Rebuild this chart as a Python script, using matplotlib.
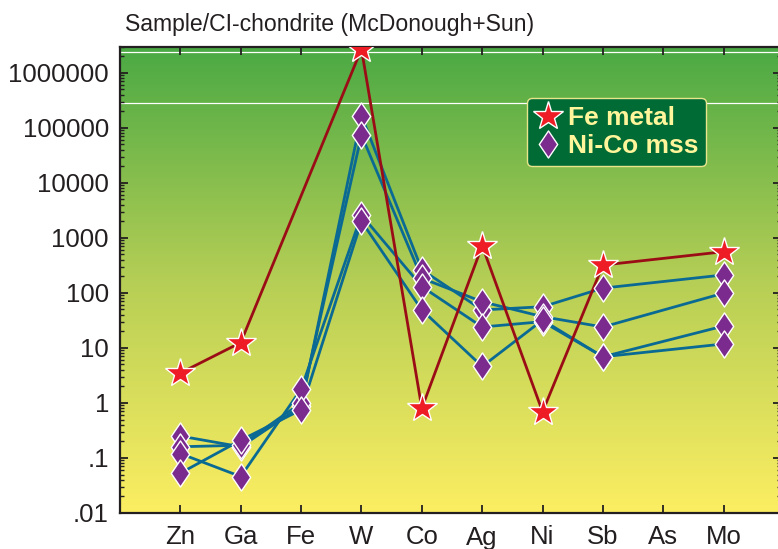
import numpy as np
import matplotlib
matplotlib.use("Agg")
import matplotlib.pyplot as plt
from matplotlib.path import Path
from matplotlib.lines import Line2D
from matplotlib.colors import LinearSegmentedColormap
from matplotlib.ticker import FixedLocator, FixedFormatter, LogLocator, NullFormatter

plt.rcParams['font.family'] = ['Liberation Sans', 'DejaVu Sans']

# Elements along the x axis (CI-chondrite normalised)
elements = ['Zn', 'Ga', 'Fe', 'W', 'Co', 'Ag', 'Ni', 'Sb', 'As', 'Mo']

# Fe metal (None = not analysed)
fe_metal = [3.5, 12.5, None, 2.7e6, 0.8, 720, 0.69, 320, None, 560]

# Ni-Co mss analyses
mss_1 = [0.25, 0.16, 0.87, 1.65e5, 263, 49, 56, 122, None, 212]
mss_2 = [0.16, 0.17, 1.0, 7.4e4, 185, 69, 37, 24, None, 99]
mss_3 = [0.12, 0.046, 1.78, 2.6e3, 130, 24, 30, 6.9, None, 25]
mss_4 = [0.053, 0.21, 0.75, 2.0e3, 49, 4.6, 32, 6.9, None, 11.8]
mss_series = [mss_1, mss_2, mss_3, mss_4]

y_ticks = [0.01, 0.1, 1, 10, 100, 1000, 10000, 100000, 1000000]
y_ticklabels = ['.01', '.1', '1', '10', '100', '1000', '10000', '100000', '1000000']

RED_LINE = '#9b0d16'
BLUE_LINE = '#0b6a93'
PURPLE = '#7b2a8e'
STAR_RED = '#ee1c25'
DARK = '#231f20'

diamond = Path([(0, 1), (0.68, 0), (0, -1), (-0.68, 0), (0, 1)],
               [Path.MOVETO, Path.LINETO, Path.LINETO, Path.LINETO, Path.CLOSEPOLY])


def split(values):
    xs = [i + 1 for i, v in enumerate(values) if v is not None]
    ys = [v for v in values if v is not None]
    return xs, ys


fig = plt.figure(figsize=(7.78, 5.49), dpi=100)
ax = fig.add_axes([120 / 778, 1 - 513 / 549, 661 / 778, 466.5 / 549])

# green-to-yellow background
cmap = LinearSegmentedColormap.from_list(
    'bg', [(0.0, '#fcee62'), (0.5, '#b5ce55'), (1.0, '#4aa944')])
grad = np.linspace(0, 1, 256).reshape(-1, 1)
ax.imshow(grad, cmap=cmap, extent=[0, 1, 0, 1], transform=ax.transAxes,
          aspect='auto', origin='lower', zorder=0)

ax.set_yscale('log')
ax.set_ylim(0.01, 3.0e6)
ax.set_xlim(0, 10.95)

ax.axhline(2.4e6, color='white', lw=0.9, zorder=1)
ax.axhline(2.85e5, color='white', lw=0.9, zorder=1)

for s in mss_series:
    xs, ys = split(s)
    ax.plot(xs, ys, color=BLUE_LINE, lw=2.0, zorder=2, solid_capstyle='round')

fx, fy = split(fe_metal)
ax.plot(fx, fy, color=RED_LINE, lw=2.0, zorder=3)

for s in mss_series:
    xs, ys = split(s)
    ax.plot(xs, ys, ls='none', marker=diamond, ms=19.5, mfc=PURPLE,
            mec='white', mew=1.0, zorder=4)

ax.plot(fx, fy, ls='none', marker='*', ms=22, mfc=STAR_RED,
        mec='white', mew=1.0, zorder=5)

# axes styling
ax.yaxis.set_major_locator(FixedLocator(y_ticks))
ax.yaxis.set_major_formatter(FixedFormatter(y_ticklabels))
ax.yaxis.set_minor_locator(LogLocator(base=10, subs=np.arange(2, 10)))
ax.yaxis.set_minor_formatter(NullFormatter())
ax.set_xticks(range(1, len(elements) + 1))
ax.set_xticklabels(elements)

ax.tick_params(axis='both', which='major', direction='in', length=6, width=1.3,
               color=DARK, labelcolor=DARK, labelsize=18.5, pad=8,
               top=True, right=True)
ax.tick_params(axis='x', which='major', pad=9)
ax.tick_params(axis='y', which='minor', direction='in', length=3, width=1.0,
               color=DARK, right=True)
ax.tick_params(axis='x', which='minor', bottom=False, top=False)
for sp in ax.spines.values():
    sp.set_color(DARK)
    sp.set_linewidth(1.6)

fig.text(125 / 778, 1 - 24 / 549, 'Sample/CI-chondrite (McDonough+Sun)',
         fontsize=16.6, color=DARK, va='center', ha='left')

handles = [
    Line2D([], [], ls='none', marker='*', ms=22, mfc=STAR_RED, mec='white', mew=1.0),
    Line2D([], [], ls='none', marker=diamond, ms=19.5, mfc=PURPLE, mec='white', mew=1.0),
]
leg = fig.legend(handles, ['Fe metal', 'Ni-Co mss'], loc='upper left',
                 bbox_to_anchor=(527 / 778, 1 - 98 / 549),
                 prop={'size': 19, 'weight': 'bold'}, labelcolor='#fff59a',
                 facecolor='#006b35', edgecolor='#e9e58c', framealpha=1,
                 fancybox=True, handletextpad=0.25, handlelength=1.0,
                 borderpad=0.3, labelspacing=0.15, borderaxespad=0)
leg.get_frame().set_linewidth(1.0)

fig.savefig('out.png', dpi=100)
